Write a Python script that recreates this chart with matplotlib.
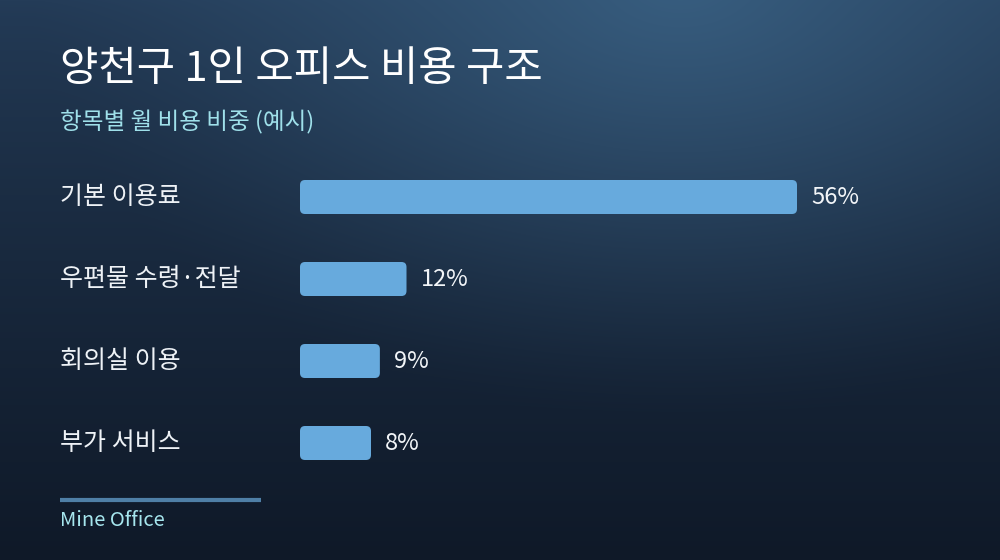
import numpy as np
import matplotlib.pyplot as plt
from matplotlib.patches import FancyBboxPatch
import matplotlib.transforms as mtransforms

plt.rcParams['font.family'] = ['Noto Sans CJK KR', 'DejaVu Sans']

title = "양천구 1인 오피스 비용 구조"
subtitle = "항목별 월 비용 비중 (예시)"
categories = ["기본 이용료", "우편물 수령·전달", "회의실 이용", "부가 서비스"]
shares = [56, 12, 9, 8]
source = "Mine Office"

W, H = 1000, 560
fig = plt.figure(figsize=(W / 100, H / 100), dpi=100)

# background gradient
bg = fig.add_axes([0, 0, 1, 1])
yy, xx = np.mgrid[0:H, 0:W]
top = np.array([0x24, 0x3c, 0x58]) / 255
bot = np.array([0x0f, 0x19, 0x28]) / 255
t = (yy / H)[..., None] ** 0.8
img = top * (1 - t) + bot * t
d = np.sqrt(((xx - 680) / 650.0) ** 2 + ((yy + 20) / 440.0) ** 2)
glow = np.clip(1 - d, 0, 1)[..., None] ** 1.3
hi = np.array([0x38, 0x5e, 0x80]) / 255
img = img * (1 - glow) + hi * glow
bg.imshow(img, extent=[0, W, H, 0], aspect='auto')
bg.set_xlim(0, W)
bg.set_ylim(H, 0)
bg.axis('off')

# bars axes: x in percent, y in pixels
px_per_pct = 8.875
ax = fig.add_axes([0.3, 0, 0.7, 1])
ax.set_xlim(0, 700 / px_per_pct)
ax.set_ylim(H, 0)
ax.axis('off')
ax.patch.set_alpha(0)

ypos = [197 + 82 * i for i in range(len(categories))]
bar_h = 34
bars = ax.barh(ypos, shares, height=bar_h, color='none')
for b in bars:
    r = 5 / px_per_pct
    p = FancyBboxPatch((b.get_x(), b.get_y()), b.get_width(), b.get_height(),
                       boxstyle=f"round,pad=0,rounding_size={r}",
                       mutation_aspect=px_per_pct,
                       facecolor='#67aadd', edgecolor='none')
    ax.add_patch(p)

for y, v in zip(ypos, shares):
    ax.text(v + 14 / px_per_pct, y + 1, f"{v}%", color='#f2f5f8', fontsize=17,
            va='center', ha='left')

trans = mtransforms.blended_transform_factory(fig.transFigure, ax.transData)
for y, c in zip(ypos, categories):
    ax.text(60 / W, y, c, transform=trans, color='#eef2f6', fontsize=18,
            va='center', ha='left')

fig.text(60 / W, 1 - 70 / H, title, color='white', fontsize=30,
         va='center', ha='left', fontweight='medium')
fig.text(60 / W, 1 - 122 / H, subtitle, color='#9fe0ea', fontsize=17,
         va='center', ha='left')

bg.plot([60, 261], [500, 500], color='#4f7fa6', lw=3, solid_capstyle='butt')
fig.text(60 / W, 1 - 521 / H, source, color='#a6e6ee', fontsize=14.5,
         va='center', ha='left')

fig.savefig('out.png', dpi=100)
